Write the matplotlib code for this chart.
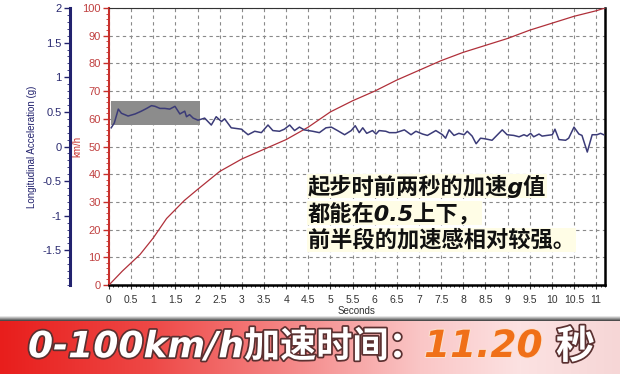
import numpy as np
import matplotlib
matplotlib.use("Agg")
import matplotlib.pyplot as plt
from matplotlib.ticker import MultipleLocator, FuncFormatter
from matplotlib.patches import Rectangle
import matplotlib.patheffects as pe

plt.rcParams['font.family'] = ['Liberation Sans', 'DejaVu Sans', 'Noto Sans CJK SC']

# ---- data ----
speed_t = [0, 0.3, 0.7, 1.0, 1.3, 1.7, 2.0, 2.5, 3.0, 3.5, 4.0, 4.5, 5.0, 5.5, 6.0,
           6.5, 7.0, 7.5, 8.0, 8.5, 9.0, 9.5, 10.0, 10.5, 11.0, 11.2]
speed_v = [0, 5, 11, 17, 24, 30.5, 34.5, 41, 45.5, 49, 52.5, 57, 62.5, 66.5, 70,
           74, 77.5, 81, 84, 86.5, 89, 92, 94.5, 97, 99, 100]

acc_t = [0.05, 0.12, 0.21, 0.28, 0.43, 0.59, 0.73, 0.85, 0.96, 1.04, 1.15, 1.26, 1.37,
         1.49, 1.6, 1.71, 1.75, 1.82, 1.9, 2.01, 2.16, 2.31, 2.42, 2.54, 2.61, 2.76,
         2.99, 3.14, 3.29, 3.44, 3.59, 3.7, 3.85, 3.96, 4.08, 4.19, 4.3, 4.41, 4.6,
         4.75, 4.9, 5.02, 5.16, 5.32, 5.47, 5.56, 5.65, 5.73, 5.82, 5.95, 6.03, 6.1,
         6.25, 6.33, 6.48, 6.67, 6.82, 6.93, 7.08, 7.19, 7.38, 7.53, 7.6, 7.68, 7.79,
         7.9, 8.02, 8.09, 8.2, 8.29, 8.39, 8.5, 8.65, 8.88, 8.99, 9.14, 9.26, 9.37,
         9.44, 9.52, 9.59, 9.71, 9.78, 9.89, 10.01, 10.07, 10.16, 10.31, 10.38, 10.5,
         10.61, 10.68, 10.8, 10.91, 11.02, 11.1, 11.17]
acc_g = [0.27, 0.34, 0.54, 0.48, 0.44, 0.47, 0.51, 0.55, 0.59, 0.58, 0.55, 0.55, 0.54,
         0.58, 0.47, 0.51, 0.43, 0.46, 0.41, 0.38, 0.41, 0.31, 0.43, 0.36, 0.40, 0.27,
         0.25, 0.17, 0.22, 0.20, 0.31, 0.23, 0.22, 0.25, 0.31, 0.23, 0.28, 0.24, 0.22,
         0.20, 0.27, 0.28, 0.23, 0.17, 0.23, 0.30, 0.20, 0.27, 0.19, 0.23, 0.18, 0.23,
         0.22, 0.20, 0.20, 0.24, 0.17, 0.22, 0.18, 0.16, 0.23, 0.17, 0.12, 0.24, 0.16,
         0.19, 0.17, 0.22, 0.15, 0.04, 0.12, 0.11, 0.09, 0.24, 0.17, 0.16, 0.14, 0.17,
         0.15, 0.19, 0.14, 0.18, 0.15, 0.16, 0.17, 0.25, 0.10, 0.09, 0.12, 0.28,
         0.18, 0.16, -0.08, 0.17, 0.17, 0.19, 0.17]

highlight_t = [0.05, 2.05]
highlight_g = [0.31, 0.65]

note_lines = ["起步时前两秒的加速g值", "都能在0.5上下，", "前半段的加速感相对较强。"]
banner_main = "0-100km/h加速时间："
banner_value = "11.20"
banner_unit = "秒"

W, H = 620, 374
fig = plt.figure(figsize=(W / 100, H / 100), dpi=100)
fig.patch.set_facecolor('white')

# ---- main axes ----
L, R, T, B = 109, 605, 8, 285
ax = fig.add_axes([L / W, 1 - B / H, (R - L) / W, (B - T) / H])
ax.set_xlim(0, 11.2)
ax.set_ylim(0, 100)
ax.xaxis.set_major_locator(MultipleLocator(0.5))
ax.xaxis.set_minor_locator(MultipleLocator(0.1))
ax.xaxis.set_major_formatter(FuncFormatter(lambda v, p: f"{v:g}"))
ax.yaxis.set_major_locator(MultipleLocator(10))
ax.yaxis.set_minor_locator(MultipleLocator(2))
ax.grid(True, which='major', color='#8a8a8a', linestyle=(0, (3, 3)), linewidth=0.8)
red = '#c8302c'
navy = '#22226e'
ax.spines['left'].set_color(red)
ax.spines['left'].set_linewidth(1.5)
ax.spines['bottom'].set_color('black')
ax.spines['bottom'].set_linewidth(1.8)
ax.spines['top'].set_color('#333333')
ax.spines['right'].set_color('black')
ax.spines['right'].set_linewidth(1.8)
ax.tick_params(axis='y', colors=red, labelsize=8, length=4, width=1, pad=2)
ax.tick_params(axis='y', which='minor', colors=red, length=2)
ax.tick_params(axis='y', labelcolor='#c04040')
ax.tick_params(axis='x', colors='#333333', labelsize=7.5, length=3, pad=4)
ax.tick_params(axis='x', which='minor', length=1.5)
ax.set_xlabel("Seconds", fontsize=7, color='#333333', labelpad=1)
ax.set_ylabel("km/h", fontsize=7, color=red, labelpad=0)

ax.plot(speed_t, speed_v, color='#b0303a', linewidth=0.9, zorder=3)

# ---- acceleration axis ----
ax2 = ax.twinx()
ax2.set_ylim(-2, 2)
ax2.yaxis.set_ticks_position('left')
ax2.yaxis.set_label_position('left')
ax2.spines['left'].set_position(('axes', (70 - L) / (R - L)))
ax2.spines['left'].set_color(navy)
ax2.spines['left'].set_linewidth(2.2)
ax2.spines['right'].set_visible(False)
ax2.spines['top'].set_visible(False)
ax2.spines['bottom'].set_visible(False)
ax2.set_yticks([-1.5, -1, -0.5, 0, 0.5, 1, 1.5, 2])
ax2.yaxis.set_major_formatter(FuncFormatter(lambda v, p: f"{v:g}"))
ax2.yaxis.set_minor_locator(MultipleLocator(0.1))
ax2.tick_params(axis='y', colors=navy, labelsize=8, length=4, width=1, pad=2)
ax2.tick_params(axis='y', which='minor', colors=navy, length=2)
ax2.tick_params(axis='y', labelcolor='#2a2a70')
ax2.set_ylabel("Longitudinal Acceleration (g)", fontsize=7, color=navy, labelpad=4)

ax2.add_patch(Rectangle((highlight_t[0], highlight_g[0]),
                        highlight_t[1] - highlight_t[0], highlight_g[1] - highlight_g[0],
                        facecolor='#8c8c8c', edgecolor='none', zorder=2))
ax2.plot(acc_t, acc_g, color='#3b3b78', linewidth=1.1, zorder=4)

# ---- note text ----
ys = [186, 213, 240]
for line, y in zip(note_lines, ys):
    fig.text(308 / W, 1 - y / H, line, fontsize=16, fontweight='bold', fontstyle='italic',
             family=['DejaVu Sans', 'Noto Sans CJK SC'], color='#111111',
             ha='left', va='center',
             bbox=dict(facecolor='#fffde6', edgecolor='none', pad=0.5))

# ---- banner ----
bh = 58
bax = fig.add_axes([0, 0, 1, bh / H])
bax.set_axis_off()
img = np.ones((bh, W, 3))
xs = np.arange(W)
stops_x = [0, 150, 300, 420, 520, 620]
stops_c = np.array([(232, 30, 28), (238, 72, 70), (245, 140, 140), (250, 198, 198),
                    (252, 226, 226), (246, 214, 214)]) / 255
sh = 5
for c in range(3):
    img[sh:, :, c] = np.interp(xs, stops_x, stops_c[:, c])[None, :]
for r in range(sh):
    v = 0.9 - 0.6 * (r / (sh - 1))
    img[r, :, :] = v
bax.imshow(img, aspect='auto', extent=[0, W, 0, bh], interpolation='bilinear')
bax.set_xlim(0, W)
bax.set_ylim(0, bh)

fx = [pe.withStroke(linewidth=2.5, foreground='#5a3030')]
cy = 1 - 347 / H
fig.text(28 / W, cy, banner_main, fontsize=26, fontweight='bold', fontstyle='italic',
         family=['DejaVu Sans', 'Noto Sans CJK SC'], color='white', ha='left', va='center',
         path_effects=fx)
fig.text(424 / W, cy, banner_value, fontsize=27, fontweight='bold', fontstyle='italic',
         family=['DejaVu Sans'], color='#f07018', ha='left', va='center',
         path_effects=[pe.withStroke(linewidth=1.5, foreground='#fbe0d0')])
fig.text(556 / W, cy, banner_unit, fontsize=28, fontweight='bold',
         family=['Noto Sans CJK SC'], color='white', ha='left', va='center',
         path_effects=fx)

fig.savefig("out.png", dpi=100, facecolor='white')
